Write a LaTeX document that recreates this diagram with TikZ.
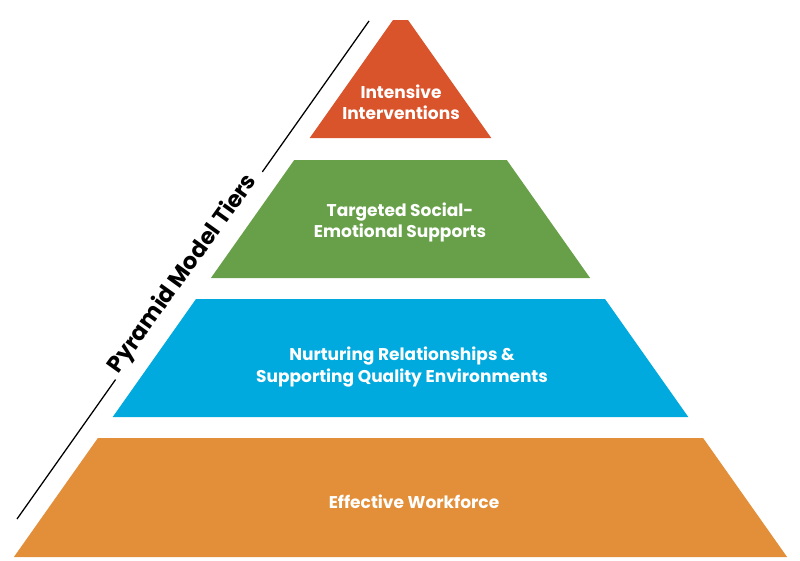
\documentclass[tikz,border=0pt]{standalone}
\usepackage{fontspec}
\setmainfont{Poppins}
\usepackage{xcolor}
\usetikzlibrary{positioning, calc}
\definecolor{clrTopTier}{HTML}{D9532B}
\definecolor{clrMidTier}{HTML}{68A04A}
\definecolor{clrUnivTier}{HTML}{00A9DE}
\definecolor{clrBaseTier}{HTML}{E38E38}

\begin{document}
\begin{tikzpicture}[
    x=0.025cm, y=-0.025cm,
    tier/.style={draw=none},
    tierlbl/.style={align=center, text=white, font=\fontsize{12.1}{15}\selectfont\bfseries},
    sideline/.style={line width=0.9pt, black},
    sidelbl/.style={font=\fontsize{16.2}{19}\selectfont\bfseries, text=black, rotate=54.4},
]
\useasboundingbox (0,0) rectangle (800,560);

% === Tiers ===
\fill[tier, clrTopTier] (393,20) -- (408,20) -- (491.3,138) -- (309.7,138) -- cycle;
\fill[tier, clrMidTier] (294.2,160) -- (506.8,160) -- (590.1,278) -- (210.9,278) -- cycle;
\fill[tier, clrUnivTier] (196,299) -- (605,299) -- (688.3,417) -- (112.7,417) -- cycle;
\fill[tier, clrBaseTier] (97.9,438) -- (703.1,438) -- (787.1,557) -- (13.9,557) -- cycle;

% === Tier labels ===
\node[tierlbl] (intensive) at (401,102) {Intensive\\Interventions};
\node[tierlbl] (targeted) at (400,222) {Targeted Social-\\Emotional Supports};
\node[tierlbl] (nurturing) at (402,367) {Nurturing Relationships \&\\Supporting Quality Environments};
\node[tierlbl] (workforce) at (414,502) {Effective Workforce};

% === Side label ===
\coordinate (lineTop) at (369,21);
\coordinate (lineBot) at (17,519);
\node[sidelbl] (tiers) at (183,274) {Pyramid Model Tiers};
\draw[sideline] (lineTop) -- ($(lineTop)!0.303!(lineBot)$);
\draw[sideline] ($(lineTop)!0.72!(lineBot)$) -- (lineBot);

\end{tikzpicture}
\end{document}
